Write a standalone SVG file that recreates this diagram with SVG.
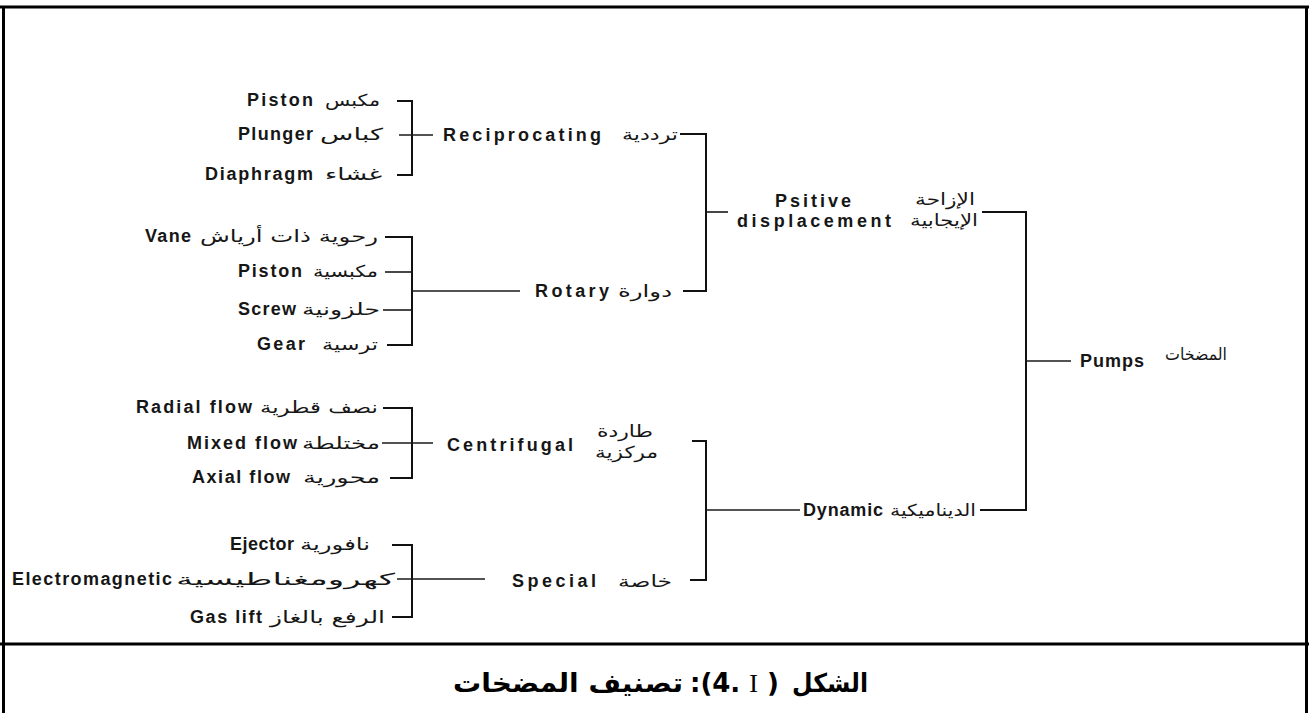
<svg xmlns="http://www.w3.org/2000/svg" width="1309" height="713" viewBox="0 0 1309 713">
<style>
.en{font-family:"Liberation Sans",Arial,sans-serif;font-weight:bold;font-size:18px;fill:#161616}
.ar{font-family:"DejaVu Sans",sans-serif;font-size:16.5px;fill:#161616}
.ln{stroke:#1a1a1a;stroke-width:1.6;fill:none}
.br{stroke:#111;stroke-width:2;fill:none}
.frame{stroke:#000;stroke-width:3;fill:none}
.cap{font-family:"DejaVu Sans",sans-serif;font-weight:bold;font-size:26px;fill:#000}
</style>
<rect width="1309" height="713" fill="#fff"/>
<g id="frame">
<line class="frame" x1="0" y1="7" x2="1309" y2="7"/>
<line class="frame" x1="3.5" y1="7" x2="3.5" y2="713"/>
<line class="frame" x1="1306.5" y1="7" x2="1306.5" y2="713"/>
<line class="frame" x1="0" y1="644" x2="1309" y2="644"/>
</g>
<g id="connectors">
<polyline class="br" points="397,101 412,101 412,175 397,175"/>
<line class="ln" x1="399" y1="135" x2="433" y2="135"/>
<polyline class="br" points="385,237 412,237 412,345 387,345"/>
<line class="ln" x1="385" y1="272" x2="412" y2="272"/>
<line class="ln" x1="383" y1="310" x2="412" y2="310"/>
<line class="ln" x1="412" y1="291" x2="520" y2="291"/>
<polyline class="br" points="383,408 412,408 412,478 390,478"/>
<line class="ln" x1="382" y1="443" x2="433" y2="443"/>
<polyline class="br" points="392,545 412,545 412,617 392,617"/>
<line class="ln" x1="397" y1="579" x2="485" y2="579"/>
<polyline class="br" points="680,134 706,134 706,291 683,291"/>
<line class="ln" x1="706" y1="212" x2="728" y2="212"/>
<polyline class="br" points="692,441 706,441 706,580 690,580"/>
<line class="ln" x1="706" y1="510" x2="800" y2="510"/>
<polyline class="br" points="982,212 1026,212 1026,510 980,510"/>
<line class="ln" x1="1026" y1="361" x2="1071" y2="361"/>
</g>
<g id="pumps">
<text class="en" x="1080" y="367" textLength="64" lengthAdjust="spacing">Pumps</text>
<text class="ar" x="1165" y="360" textLength="62" lengthAdjust="spacingAndGlyphs">المضخات</text>
</g>
<g id="positive-displacement">
<text class="en" x="775" y="207" textLength="76" lengthAdjust="spacing">Psitive</text>
<text class="en" x="737" y="227" textLength="154" lengthAdjust="spacing">displacement</text>
<text class="ar" x="915" y="205" textLength="60" lengthAdjust="spacingAndGlyphs">الإزاحة</text>
<text class="ar" x="910" y="226" textLength="68" lengthAdjust="spacingAndGlyphs">الإيجابية</text>
</g>
<g id="dynamic">
<text class="en" x="803" y="516" textLength="80" lengthAdjust="spacing">Dynamic</text>
<text class="ar" x="890" y="516" textLength="86" lengthAdjust="spacingAndGlyphs">الديناميكية</text>
</g>
<g id="reciprocating">
<text class="en" x="443" y="141" textLength="158" lengthAdjust="spacing">Reciprocating</text>
<text class="ar" x="622" y="140" textLength="56" lengthAdjust="spacingAndGlyphs">ترددية</text>
</g>
<g id="rotary">
<text class="en" x="535" y="297" textLength="74" lengthAdjust="spacing">Rotary</text>
<text class="ar" x="618" y="297" textLength="54" lengthAdjust="spacingAndGlyphs">دوارة</text>
</g>
<g id="centrifugal">
<text class="en" x="447" y="451" textLength="126" lengthAdjust="spacing">Centrifugal</text>
<text class="ar" x="597" y="437" textLength="56" lengthAdjust="spacingAndGlyphs">طاردة</text>
<text class="ar" x="595" y="458" textLength="63" lengthAdjust="spacingAndGlyphs">مركزية</text>
</g>
<g id="special">
<text class="en" x="512" y="587" textLength="84" lengthAdjust="spacing">Special</text>
<text class="ar" x="618" y="587" textLength="54" lengthAdjust="spacingAndGlyphs">خاصة</text>
</g>
<g id="piston">
<text class="en" x="247" y="106" textLength="66" lengthAdjust="spacing">Piston</text>
<text class="ar" x="325" y="106" textLength="55" lengthAdjust="spacingAndGlyphs">مكبس</text>
</g>
<g id="plunger">
<text class="en" x="238" y="140" textLength="75" lengthAdjust="spacing">Plunger</text>
<text class="ar" x="320" y="140" textLength="63" lengthAdjust="spacingAndGlyphs">كباس</text>
</g>
<g id="diaphragm">
<text class="en" x="205" y="180" textLength="108" lengthAdjust="spacing">Diaphragm</text>
<text class="ar" x="325" y="180" textLength="57" lengthAdjust="spacingAndGlyphs">غشاء</text>
</g>
<g id="vane">
<text class="en" x="145" y="242" textLength="46" lengthAdjust="spacing">Vane</text>
<text class="ar" x="200" y="242" textLength="178" lengthAdjust="spacingAndGlyphs">رحوية ذات أرياش</text>
</g>
<g id="rotary-piston">
<text class="en" x="238" y="277" textLength="64" lengthAdjust="spacing">Piston</text>
<text class="ar" x="313" y="277" textLength="65" lengthAdjust="spacingAndGlyphs">مكبسية</text>
</g>
<g id="screw">
<text class="en" x="238" y="315" textLength="58" lengthAdjust="spacing">Screw</text>
<text class="ar" x="302" y="315" textLength="78" lengthAdjust="spacingAndGlyphs">حلزونية</text>
</g>
<g id="gear">
<text class="en" x="257" y="350" textLength="48" lengthAdjust="spacing">Gear</text>
<text class="ar" x="322" y="350" textLength="56" lengthAdjust="spacingAndGlyphs">ترسية</text>
</g>
<g id="radial-flow">
<text class="en" x="136" y="413" textLength="116" lengthAdjust="spacing">Radial flow</text>
<text class="ar" x="260" y="413" textLength="118" lengthAdjust="spacingAndGlyphs">نصف قطرية</text>
</g>
<g id="mixed-flow">
<text class="en" x="187" y="449" textLength="110" lengthAdjust="spacing">Mixed flow</text>
<text class="ar" x="302" y="449" textLength="78" lengthAdjust="spacingAndGlyphs">مختلطة</text>
</g>
<g id="axial-flow">
<text class="en" x="192" y="483" textLength="98" lengthAdjust="spacing">Axial flow</text>
<text class="ar" x="303" y="483" textLength="77" lengthAdjust="spacingAndGlyphs">محورية</text>
</g>
<g id="ejector">
<text class="en" x="230" y="550" textLength="64" lengthAdjust="spacing">Ejector</text>
<text class="ar" x="300" y="550" textLength="70" lengthAdjust="spacingAndGlyphs">نافورية</text>
</g>
<g id="electromagnetic">
<text class="en" x="12" y="585" textLength="160" lengthAdjust="spacing">Electromagnetic</text>
<text class="ar" x="176" y="585" textLength="219" lengthAdjust="spacingAndGlyphs">كهرومغناطيسية</text>
</g>
<g id="gas-lift">
<text class="en" x="190" y="623" textLength="72" lengthAdjust="spacing">Gas lift</text>
<text class="ar" x="270" y="623" textLength="115" lengthAdjust="spacingAndGlyphs">الرفع بالغاز</text>
</g>
<g id="caption">
<text class="cap" x="453" y="692" textLength="230" lengthAdjust="spacingAndGlyphs">تصنيف المضخات</text>
<text class="cap" x="690" y="692">:(4. <tspan font-family="'Liberation Serif',serif" font-weight="normal">I</tspan> )</text>
<text class="cap" x="792" y="692" textLength="76" lengthAdjust="spacingAndGlyphs">الشكل</text>
</g>
</svg>
